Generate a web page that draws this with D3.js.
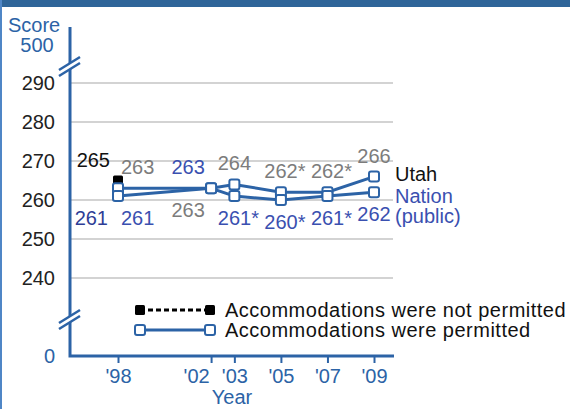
<!DOCTYPE html>
<html>
<head>
<meta charset="utf-8">
<script src="https://cdn.jsdelivr.net/npm/d3@7"></script>
<style>
  body { margin: 0; background: #fff; }
  svg { display: block; font-family: "Liberation Sans", Arial, sans-serif; }
</style>
</head>
<body>
<div id="chart"></div>
<script>
// NAEP score trend, Utah vs Nation (public)
let years = [1998, 2002, 2003, 2005, 2007, 2009];
let utahPermitted = [263, 263, 264, 262, 262, 266];
let utahSig = ["", "", "", "*", "*", ""];
let nationPermitted = [261, 263, 261, 260, 261, 262];
let nationSig = ["", "", "*", "*", "*", ""];
let notPermittedYears = [1998];
let utahNotPermitted = [265];
let nationNotPermitted = [261];
let yTicks = [240, 250, 260, 270, 280, 290];
let legendLabels = ["Accommodations were not permitted", "Accommodations were permitted"];

let svgWidth = 570;
let svgHeight = 409;
let blue = "#2c63a6";
let fontSize = 20;

let svg = d3.select("#chart")
  .append("svg")
  .attr("width", svgWidth)
  .attr("height", svgHeight);

// frame bits: header band and left border
svg.append("rect").attr("x", 0).attr("y", 0).attr("width", svgWidth).attr("height", 7).attr("fill", "#2f6599");
svg.append("rect").attr("x", 0).attr("y", 0).attr("width", 2).attr("height", svgHeight).attr("fill", "#4f86c6");

let x = d3.scaleLinear().domain([1998, 2009]).range([118, 374]);
let y = d3.scaleLinear().domain([240, 290]).range([278, 83]);

let axisX = 70, axisRight = 394, axisBottom = 356, axisTop = 27;

// gridlines
svg.append("g").selectAll("line")
  .data(yTicks)
  .enter().append("line")
  .attr("x1", axisX).attr("x2", axisRight - 1)
  .attr("y1", d => y(d)).attr("y2", d => y(d))
  .attr("stroke", "#c4c4c4").attr("stroke-width", 1.5);

// y axis labels
let yAxis = d3.axisLeft(y).tickValues(yTicks).tickSize(0).tickPadding(15);
let yg = svg.append("g").attr("transform", "translate(" + axisX + ",0)").call(yAxis);
yg.select(".domain").remove();
yg.selectAll("text").attr("font-size", fontSize).attr("font-family", "Liberation Sans, Arial").attr("fill", "#222");

// axis lines
svg.append("path")
  .attr("d", "M" + axisX + "," + axisTop + "V" + axisBottom + "H" + axisRight)
  .attr("fill", "none").attr("stroke", blue).attr("stroke-width", 3);

// axis breaks
[67, 320].forEach(function(by) {
  let g = svg.append("g").attr("transform", "translate(" + axisX + "," + by + ")");
  g.append("path").attr("d", "M-10,2 L10,-10 L10,-4 L-10,8 Z").attr("fill", "#fff");
  g.append("line").attr("x1", -11).attr("y1", 3).attr("x2", 10).attr("y2", -10)
    .attr("stroke", blue).attr("stroke-width", 2.5);
  g.append("line").attr("x1", -11).attr("y1", 9).attr("x2", 10).attr("y2", -4)
    .attr("stroke", blue).attr("stroke-width", 2.5);
});

// y extremes and title
svg.append("text").attr("x", 37).attr("y", 52).attr("text-anchor", "middle")
  .attr("font-size", fontSize).attr("fill", blue).text("500");
svg.append("text").attr("x", 55).attr("y", 363).attr("text-anchor", "end")
  .attr("font-size", fontSize).attr("fill", blue).text("0");
svg.append("text").attr("x", 8).attr("y", 32)
  .attr("font-size", fontSize).attr("fill", blue).text("Score");

// x axis ticks
let xAxis = d3.axisBottom(x).tickValues(years).tickSize(7).tickPadding(6)
  .tickFormat(d => "'" + String(d).slice(2));
let xg = svg.append("g").attr("transform", "translate(0," + axisBottom + ")").call(xAxis);
xg.select(".domain").remove();
xg.selectAll("line").attr("stroke", blue).attr("stroke-width", 2);
xg.selectAll("text").attr("font-size", fontSize).attr("font-family", "Liberation Sans, Arial").attr("fill", blue)
  .attr("dx", d => d === 2002 ? -15 : 0);

svg.append("text").attr("x", 232).attr("y", 404).attr("text-anchor", "middle")
  .attr("font-size", fontSize).attr("fill", blue).text("Year");

// lines
let line = d3.line().x(d => x(d[0])).y(d => y(d[1]));
let utahPts = years.map((yr, i) => [yr, utahPermitted[i]]);
let nationPts = years.map((yr, i) => [yr, nationPermitted[i]]);

[nationPts, utahPts].forEach(function(pts) {
  svg.append("path").datum(pts).attr("d", line)
    .attr("fill", "none").attr("stroke", blue).attr("stroke-width", 3);
});

// markers
function filledSquare(g, cx, cy, color) {
  g.append("rect").attr("x", cx - 5).attr("y", cy - 5).attr("width", 10).attr("height", 10)
    .attr("rx", 1.5).attr("fill", color);
}
function openSquare(g, cx, cy) {
  g.append("rect").attr("x", cx - 5).attr("y", cy - 5).attr("width", 10).attr("height", 10)
    .attr("rx", 2).attr("fill", "#fff").attr("stroke", blue).attr("stroke-width", 2);
}

let marks = svg.append("g");
notPermittedYears.forEach(function(yr, i) {
  filledSquare(marks, x(yr), y(nationNotPermitted[i]), "#2a3a8c");
  filledSquare(marks, x(yr), y(utahNotPermitted[i]), "#000");
});
utahPts.concat(nationPts).forEach(d => openSquare(marks, x(d[0]), y(d[1])));

// data labels
let utahColor = "#7c7c7c", nationColor = "#3a50b0";
let labels = svg.append("g").attr("font-size", fontSize);

function label(txt, lx, ly, color, anchor) {
  return labels.append("text").attr("x", lx).attr("y", ly).attr("text-anchor", anchor || "middle")
    .attr("fill", color).text(txt);
}

years.forEach(function(yr, i) {
  let px = x(yr);
  let first = i === 0;
  let tie = utahPermitted[i] === nationPermitted[i];
  let dx = tie ? -23 : 0;
  let anchor = first ? "start" : "middle";
  let lx = first ? px + 3 : px + dx;
  // utah above unless tied, nation below unless tied
  let uy = tie ? y(utahPermitted[i]) + 29 : y(utahPermitted[i]) - 14;
  let ny = tie ? y(nationPermitted[i]) - 14 : y(nationPermitted[i]) + 29;
  let ushift = utahSig[i] ? 4 : 0;
  let nshift = nationSig[i] ? 4 : 0;
  label(utahPermitted[i] + utahSig[i], lx + ushift, uy, utahColor, anchor);
  label(nationPermitted[i] + nationSig[i], lx + nshift, ny, nationColor, anchor);
});

notPermittedYears.forEach(function(yr, i) {
  label(utahNotPermitted[i], x(yr) - 8, y(utahNotPermitted[i]) - 14, "#111", "end");
  label(nationNotPermitted[i], x(yr) - 10, y(nationNotPermitted[i]) + 29, "#2e3d96", "end");
});

// series names at right
label("Utah", 395, 181, "#111", "start");
label("Nation", 395, 203, nationColor, "start");
label("(public)", 395, 223, nationColor, "start");

// legend
let legend = svg.append("g").attr("font-size", fontSize);
let l1 = 310, l2 = 330;
legend.append("line").attr("x1", 140).attr("x2", 210).attr("y1", l1).attr("y2", l1)
  .attr("stroke", "#000").attr("stroke-width", 3).attr("stroke-dasharray", "5,3");
filledSquare(legend, 140, l1, "#000");
filledSquare(legend, 210, l1, "#000");
legend.append("line").attr("x1", 140).attr("x2", 210).attr("y1", l2).attr("y2", l2)
  .attr("stroke", blue).attr("stroke-width", 3);
openSquare(legend, 140, l2);
openSquare(legend, 210, l2);
legend.selectAll("text.leg")
  .data(legendLabels)
  .enter().append("text")
  .attr("class", "leg")
  .attr("x", 225)
  .attr("y", (d, i) => (i === 0 ? l1 : l2) + 7)
  .attr("letter-spacing", 0.5)
  .attr("fill", "#111")
  .text(d => d);
</script>
</body>
</html>
